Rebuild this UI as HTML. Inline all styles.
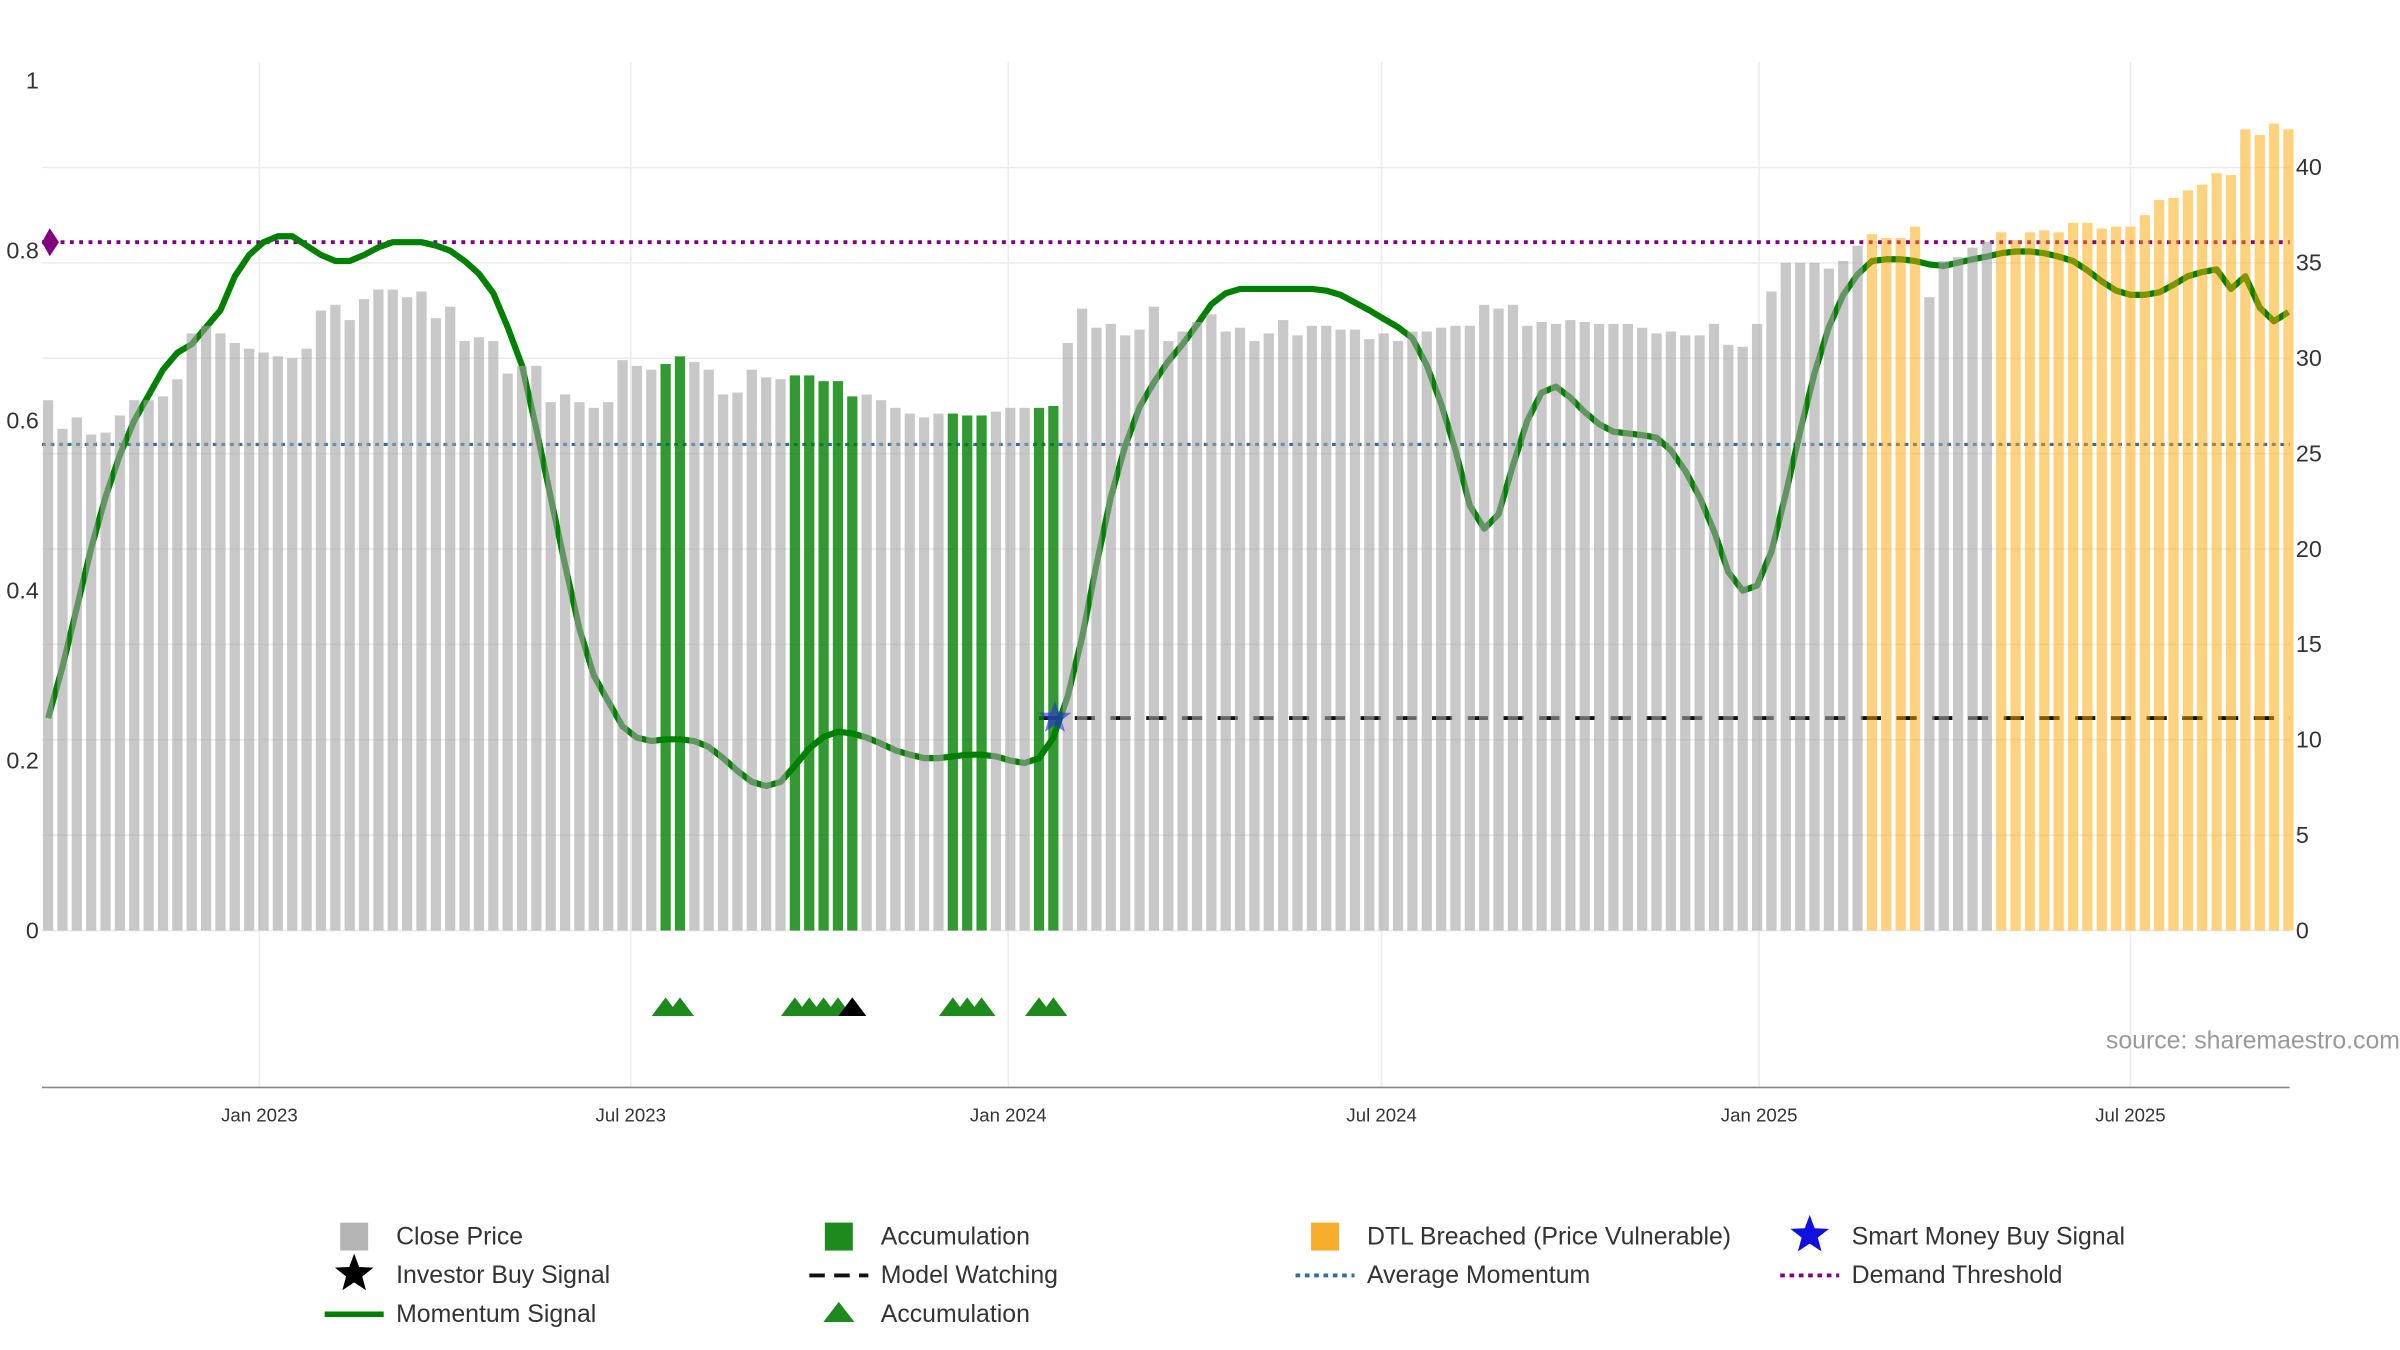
<!DOCTYPE html>
<html><head><meta charset="utf-8"><style>
html,body{margin:0;padding:0;background:#fff;}
svg{display:block;font-family:"Liberation Sans",sans-serif;}
</style></head><body>
<svg id="chart" width="2400" height="1350" viewBox="0 0 1545 869" preserveAspectRatio="none" xmlns="http://www.w3.org/2000/svg">
<g id="grid"></g>
<g id="lines"></g>
<g id="bars"></g>
<g id="markers"></g>
<g id="axes"></g>
<text x="1545" y="675" text-anchor="end" font-size="16" fill="#999">source: sharemaestro.com</text>
<g id="legend"></g>
</svg>
<script>
const prices=[27.8,26.3,26.9,26.0,26.1,27.0,27.8,27.8,28.0,28.9,
31.3,31.7,31.3,30.8,30.5,30.3,30.1,30.0,30.5,32.5,
32.8,32.0,33.1,33.6,33.6,33.2,33.5,32.1,32.7,30.9,
31.1,30.9,29.2,29.6,29.6,27.7,28.1,27.7,27.4,27.7,
29.9,29.6,29.4,29.7,30.1,29.8,29.4,28.1,28.2,29.4,
29.0,28.9,29.1,29.1,28.8,28.8,28.0,28.1,27.8,27.4,
27.1,26.9,27.1,27.1,27.0,27.0,27.2,27.4,27.4,27.4,
27.5,30.8,32.6,31.6,31.8,31.2,31.5,32.7,30.9,31.4,
31.9,32.3,31.4,31.6,30.9,31.3,32.0,31.2,31.7,31.7,
31.5,31.5,31.0,31.3,30.9,31.4,31.4,31.6,31.7,31.7,
32.8,32.6,32.8,31.7,31.9,31.8,32.0,31.9,31.8,31.8,
31.8,31.6,31.3,31.4,31.2,31.2,31.8,30.7,30.6,31.8,
33.5,35.0,35.0,35.0,34.7,35.1,35.9,36.5,36.3,36.3,
36.9,33.2,35.1,35.3,35.8,36.1,36.6,36.2,36.6,36.7,
36.6,37.1,37.1,36.8,36.9,36.9,37.5,38.3,38.4,38.8,
39.1,39.7,39.6,42.0,41.7,42.3,42.0];
const momentum=[0.25,0.31,0.38,0.45,0.51,0.56,0.60,0.63,0.66,0.68,
0.69,0.71,0.73,0.77,0.795,0.81,0.817,0.817,0.806,0.795,
0.788,0.788,0.795,0.804,0.81,0.81,0.81,0.806,0.80,0.788,
0.773,0.75,0.71,0.665,0.59,0.51,0.43,0.355,0.30,0.27,
0.24,0.227,0.223,0.225,0.225,0.223,0.216,0.203,0.188,0.175,
0.17,0.175,0.194,0.214,0.228,0.234,0.232,0.227,0.22,0.212,
0.207,0.203,0.203,0.205,0.207,0.207,0.205,0.20,0.197,0.203,
0.227,0.276,0.345,0.43,0.51,0.57,0.616,0.645,0.67,0.69,
0.713,0.737,0.75,0.755,0.755,0.755,0.755,0.755,0.755,0.753,
0.748,0.739,0.73,0.72,0.71,0.697,0.665,0.62,0.565,0.50,
0.473,0.49,0.547,0.60,0.633,0.64,0.627,0.61,0.596,0.587,
0.585,0.583,0.58,0.565,0.541,0.51,0.47,0.422,0.40,0.406,
0.446,0.514,0.587,0.656,0.71,0.748,0.772,0.788,0.79,0.79,
0.788,0.784,0.782,0.786,0.79,0.793,0.797,0.799,0.799,0.797,
0.793,0.788,0.777,0.764,0.753,0.748,0.748,0.751,0.76,0.77,
0.775,0.778,0.755,0.77,0.733,0.717,0.728];
const accumIdx=[43,44,52,53,54,55,56,63,64,65,69,70];
const orangeIdx=[127,128,129,130,136,137,138,139,140,141,142,143,144,145,146,147,148,149,150,151,152,153,154,155,156];
const triangleIdx=[43,44,52,53,54,55,63,64,65,69,70];
const investorIdx=[56];
const smartMoneyIdx=[70];
const smartMoneyVal=[0.25];
const watchStart=[69];
const watchLevel=[0.25];
const avgMomentum=[0.572];
const demandThreshold=[0.81];
const leftTicks=[0,0.2,0.4,0.6,0.8,1];
const leftTickLabels=["0","0.2","0.4","0.6","0.8","1"];
const rightTicks=[0,5,10,15,20,25,30,35,40];
const xTickDates=["2023-01-01","2023-07-01","2024-01-01","2024-07-01","2025-01-01","2025-07-01"];
const xTickLabels=["Jan 2023","Jul 2023","Jan 2024","Jul 2024","Jan 2025","Jul 2025"];

const NS="http://www.w3.org/2000/svg";
const DAY=86400000;
const ref=Date.UTC(2023,0,1);
const startDate=ref-103*DAY;
function xDate(t){return 167+(t-ref)/DAY*1.3207;}
function xIdx(i){return xDate(startDate+i*7*DAY);}
function yL(m){return 599-m*547;}
function yR(p){return 599-p*12.28;}
const X0=27,X1=1474;
function mk(tag,attrs,parent){const e=document.createElementNS(NS,tag);for(const k in attrs)e.setAttribute(k,attrs[k]);parent.appendChild(e);return e;}
const grid=document.getElementById('grid'),lines=document.getElementById('lines'),bars=document.getElementById('bars'),markers=document.getElementById('markers'),axes=document.getElementById('axes'),legend=document.getElementById('legend');

rightTicks.forEach(v=>{const l=mk('line',{x1:X0,x2:X1,y1:yR(v),y2:yR(v),stroke:'#ebebeb','stroke-width':1},grid);


const t=mk('text',{x:1478,y:yR(v)+5,'font-size':15,fill:'#333'},axes);t.textContent=String(v);

});
leftTicks.forEach((v,i)=>{const t=mk('text',{x:25,y:yL(v)+5,'text-anchor':'end','font-size':15,fill:'#333'},axes);t.textContent=leftTickLabels[i];

});
xTickDates.forEach((d,i)=>{const x=xDate(Date.parse(d));
const g=mk('line',{x1:x,x2:x,y1:40,y2:700,stroke:'#ececec','stroke-width':1},grid);


const t=mk('text',{x:x,y:722,'text-anchor':'middle','font-size':12,fill:'#333'},axes);t.textContent=xTickLabels[i];

});
const ax=mk('line',{x1:X0,x2:X1,y1:700,y2:700,stroke:'#888','stroke-width':1},axes);



let hl=mk('line',{x1:X0,x2:X1,y1:yL(demandThreshold[0]),y2:yL(demandThreshold[0]),stroke:'#800080','stroke-width':2.5,'stroke-dasharray':'2.5 3.5'},lines);


hl=mk('line',{x1:X0,x2:X1,y1:yL(avgMomentum[0]),y2:yL(avgMomentum[0]),stroke:'#2e6e9e','stroke-width':2,'stroke-dasharray':'2.5 3'},lines);


hl=mk('line',{x1:xIdx(watchStart[0]),x2:X1,y1:yL(watchLevel[0]),y2:yL(watchLevel[0]),stroke:'#111','stroke-width':2.5,'stroke-dasharray':'13 10'},lines);


const mp=mk('path',{d:momentum.map((m,i)=>(i?'L':'M')+xIdx(i).toFixed(1)+','+yL(m).toFixed(1)).join(''),fill:'none',stroke:'#008000','stroke-width':4,'stroke-linejoin':'round'},lines);



prices.forEach((p,i)=>{let fill='rgba(163,163,163,0.6)';let nm='close-price-bar';
if(accumIdx.includes(i)){fill='rgba(0,128,0,0.8)';nm='accumulation-bar';}
else if(orangeIdx.includes(i)){fill='rgba(255,165,0,0.5)';nm='dtl-breached-bar';}
const r=mk('rect',{x:xIdx(i)-3.3,y:yR(p),width:6.6,height:599-yR(p),fill:fill},bars);

});

const dm=mk('path',{d:`M27,${yL(demandThreshold[0])} L32,${yL(demandThreshold[0])-9} L38,${yL(demandThreshold[0])} L32,${yL(demandThreshold[0])+9}Z`,fill:'#800080'},markers);


function starPath(cx,cy,R,r){let d='';for(let k=0;k<10;k++){const a=-Math.PI/2+k*Math.PI/5;const rr=k%2?r:R;d+=(k?'L':'M')+(cx+rr*Math.cos(a)).toFixed(1)+','+(cy+rr*Math.sin(a)).toFixed(1);}return d+'Z';}
smartMoneyIdx.forEach((i,k)=>{const s=mk('path',{d:starPath(xIdx(i)+1,yL(smartMoneyVal[k]),11,4.5),fill:'rgba(40,40,230,0.6)'},markers);

});
function tri(x,y,c,name){const t=mk('path',{d:`M${x-9},${y+6} L${x},${y-6} L${x+9},${y+6}Z`,fill:c},markers);

}
triangleIdx.forEach(i=>tri(xIdx(i),648,'#1e8a1e','accumulation-triangle'));
investorIdx.forEach(i=>tri(xIdx(i),648,'#000','investor-buy-triangle'));

function lt(x,y,txt){const t=mk('text',{x:x,y:y+5,'font-size':16,fill:'#333'},legend);t.textContent=txt;

}
function sq(x,y,c){const r=mk('rect',{x:x-9,y:y-9,width:18,height:18,fill:c},legend);

}
sq(228,796,'#b4b4b4');lt(255,796,'Close Price');
sq(540,796,'#1e8a1e');lt(567,796,'Accumulation');
sq(853,796,'#f8ac2c');lt(880,796,'DTL Breached (Price Vulnerable)');
let st=mk('path',{d:starPath(1165,795,13,5.5),fill:'#1010e0'},legend);


lt(1192,796,'Smart Money Buy Signal');
st=mk('path',{d:starPath(228,820,13,5.5),fill:'#000'},legend);


lt(255,821,'Investor Buy Signal');
let ll=mk('line',{x1:521,x2:559,y1:821,y2:821,stroke:'#111','stroke-width':2.5,'stroke-dasharray':'10 6'},legend);


lt(567,821,'Model Watching');
ll=mk('line',{x1:834,x2:872,y1:821,y2:821,stroke:'#2e6e9e','stroke-width':2.5,'stroke-dasharray':'3 3'},legend);


lt(880,821,'Average Momentum');
ll=mk('line',{x1:1146,x2:1184,y1:821,y2:821,stroke:'#800080','stroke-width':2.5,'stroke-dasharray':'3 3'},legend);


lt(1192,821,'Demand Threshold');
ll=mk('line',{x1:209,x2:247,y1:846,y2:846,stroke:'#008000','stroke-width':3.5},legend);


lt(255,846,'Momentum Signal');
const lt2=mk('path',{d:'M530,851 L540,838 L550,851Z',fill:'#1e8a1e'},legend);


lt(567,846,'Accumulation');
</script>
</body></html>
